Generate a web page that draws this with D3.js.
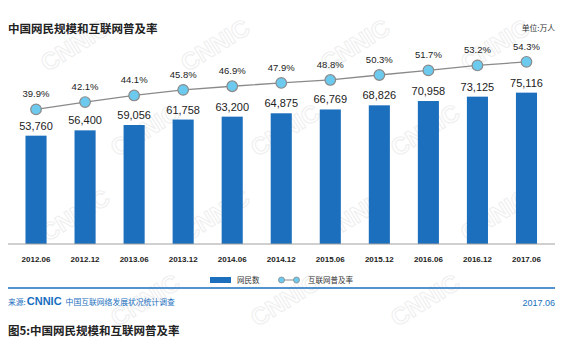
<!DOCTYPE html>
<html>
<head>
<meta charset="utf-8">
<script src="https://cdn.jsdelivr.net/npm/d3@7"></script>
<style>
  body { margin: 0; background: #fff; }
  svg { display: block; }
  .axis text { font-family: "Liberation Sans", Arial, sans-serif; font-weight: bold; font-size: 8px; fill: #222; }
</style>
</head>
<body>
<div id="chart"></div>
<script>
// periods (x axis)
var periods = ["2012.06", "2012.12", "2013.06", "2013.12", "2014.06", "2014.12",
               "2015.06", "2015.12", "2016.06", "2016.12", "2017.06"];
// netizens, 10k people
var netizens = [53760, 56400, 59056, 61758, 63200, 64875, 66769, 68826, 70958, 73125, 75116];
// internet penetration rate, %
var penetration = [39.9, 42.1, 44.1, 45.8, 46.9, 47.9, 48.8, 50.3, 51.7, 53.2, 54.3];

var width = 580, height = 351;
var barColor = "#1c6fbd";
var dotColor = "#6ccaee";
var blue = "#1a6fc0";

var svg = d3.select("#chart").append("svg")
    .attr("width", width)
    .attr("height", height);

// watermark, kept inside the frame
var wmRows = [45, 130, 215, 300];
var wm = svg.append("g").attr("class", "watermark");
wmRows.forEach(function (wy, r) {
    var cols = r % 2 === 0 ? [75, 215, 355, 495] : [145, 285, 425];
    cols.forEach(function (wx) {
        wm.append("text")
            .attr("transform", "translate(" + wx + "," + wy + ") rotate(-32)")
            .attr("text-anchor", "middle")
            .attr("dy", "0.35em")
            .attr("font-family", "Liberation Sans, Arial, sans-serif")
            .attr("font-weight", "bold")
            .attr("font-size", 24)
            .attr("fill", "none")
            .attr("stroke", "#efefef")
            .attr("stroke-width", 1.1)
            .text("CNNIC");
    });
});

// title
svg.append("text")
    .attr("x", 8).attr("y", 33)
    .attr("font-family", "Noto Sans CJK SC")
    .attr("font-weight", "bold")
    .attr("font-size", 11.5)
    .attr("fill", "#222")
    .text("中国网民规模和互联网普及率");

svg.append("text")
    .attr("x", 555).attr("y", 31)
    .attr("text-anchor", "end")
    .attr("font-family", "Noto Sans CJK SC")
    .attr("font-size", 7.8)
    .attr("fill", "#333")
    .text("单位:万人");

// scales
var x = d3.scaleBand()
    .domain(periods)
    .range([11.5, 551])
    .paddingInner(0.57)
    .paddingOuter(0.285);

var y = d3.scaleLinear()
    .domain([0, 100000])
    .range([244, 42.5]);

var yRate = d3.scaleLinear()
    .domain([0, 60])
    .range([241, 43]);

// bars
svg.selectAll(".bar")
    .data(netizens)
    .enter().append("rect")
    .attr("class", "bar")
    .attr("x", function (d, i) { return x(periods[i]); })
    .attr("y", function (d) { return y(d); })
    .attr("width", x.bandwidth())
    .attr("height", function (d) { return y(0) - y(d); })
    .attr("fill", barColor);

// baseline
svg.append("line")
    .attr("x1", 8).attr("x2", 555)
    .attr("y1", y(0)).attr("y2", y(0))
    .attr("stroke", "#a0a0a0")
    .attr("stroke-width", 1);

// x axis labels
var xAxis = d3.axisBottom(x).tickSize(0).tickPadding(12);
svg.append("g")
    .attr("class", "axis")
    .attr("transform", "translate(0," + y(0) + ")")
    .call(xAxis)
    .call(function (g) { g.select(".domain").remove(); });

// bar value labels
var fmt = d3.format(",");
svg.selectAll(".barLabel")
    .data(netizens)
    .enter().append("text")
    .attr("class", "barLabel")
    .attr("x", function (d, i) { return x(periods[i]) + x.bandwidth() / 2; })
    .attr("y", function (d) { return y(d) - 6; })
    .attr("text-anchor", "middle")
    .attr("font-family", "Liberation Sans, Arial, sans-serif")
    .attr("font-size", 11)
    .attr("fill", "#222")
    .text(function (d) { return fmt(d); });

// penetration line
var line = d3.line()
    .x(function (d, i) { return x(periods[i]) + x.bandwidth() / 2; })
    .y(function (d) { return yRate(d); });

svg.append("path")
    .datum(penetration)
    .attr("d", line)
    .attr("fill", "none")
    .attr("stroke", "#8a8a8a")
    .attr("stroke-width", 1.3);

svg.selectAll(".dot")
    .data(penetration)
    .enter().append("circle")
    .attr("class", "dot")
    .attr("cx", function (d, i) { return x(periods[i]) + x.bandwidth() / 2; })
    .attr("cy", function (d) { return yRate(d); })
    .attr("r", 5.3)
    .attr("fill", dotColor)
    .attr("stroke", "#8a8a8a")
    .attr("stroke-width", 1.2);

svg.selectAll(".rateLabel")
    .data(penetration)
    .enter().append("text")
    .attr("class", "rateLabel")
    .attr("x", function (d, i) { return x(periods[i]) + x.bandwidth() / 2; })
    .attr("y", function (d) { return yRate(d) - 12; })
    .attr("text-anchor", "middle")
    .attr("font-family", "Liberation Sans, Arial, sans-serif")
    .attr("font-size", 9.5)
    .attr("fill", "#222")
    .text(function (d) { return d.toFixed(1) + "%"; });

// legend
var legend = svg.append("g");
legend.append("rect")
    .attr("x", 210).attr("y", 277)
    .attr("width", 21).attr("height", 6)
    .attr("fill", barColor);
legend.append("text")
    .attr("x", 237).attr("y", 283)
    .attr("font-family", "Noto Sans CJK SC")
    .attr("font-size", 7.5)
    .attr("fill", "#333")
    .text("网民数");
legend.append("line")
    .attr("x1", 281.5).attr("x2", 296.5)
    .attr("y1", 280).attr("y2", 280)
    .attr("stroke", "#8a8a8a").attr("stroke-width", 1);
legend.selectAll(".legDot")
    .data([281.5, 296.5])
    .enter().append("circle")
    .attr("cx", function (d) { return d; })
    .attr("cy", 280)
    .attr("r", 3)
    .attr("fill", dotColor)
    .attr("stroke", "#8a8a8a")
    .attr("stroke-width", 0.8);
legend.append("text")
    .attr("x", 308).attr("y", 283)
    .attr("font-family", "Noto Sans CJK SC")
    .attr("font-size", 7.5)
    .attr("fill", "#333")
    .text("互联网普及率");

// separator
svg.append("line")
    .attr("x1", 8).attr("x2", 555)
    .attr("y1", 288).attr("y2", 288)
    .attr("stroke", blue)
    .attr("stroke-width", 1.5);

// source
var src = svg.append("text")
    .attr("x", 8).attr("y", 305)
    .attr("font-family", "Noto Sans CJK SC")
    .attr("font-size", 7.8)
    .attr("fill", blue);
src.append("tspan").text("来源:");
src.append("tspan")
    .attr("font-family", "Liberation Sans, Arial, sans-serif")
    .attr("font-weight", "bold")
    .attr("font-size", 11)
    .attr("dx", 1)
    .text("CNNIC");
src.append("tspan").attr("dx", 4).text("中国互联网络发展状况统计调查");

svg.append("text")
    .attr("x", 555).attr("y", 305.5)
    .attr("text-anchor", "end")
    .attr("font-family", "Liberation Sans, Arial, sans-serif")
    .attr("font-size", 9)
    .attr("fill", blue)
    .text("2017.06");

// caption
svg.append("text")
    .attr("x", 8).attr("y", 334.5)
    .attr("font-family", "Noto Sans CJK SC")
    .attr("font-weight", "bold")
    .attr("font-size", 11.5)
    .attr("fill", "#222")
    .text("图5:中国网民规模和互联网普及率");
</script>
</body>
</html>
